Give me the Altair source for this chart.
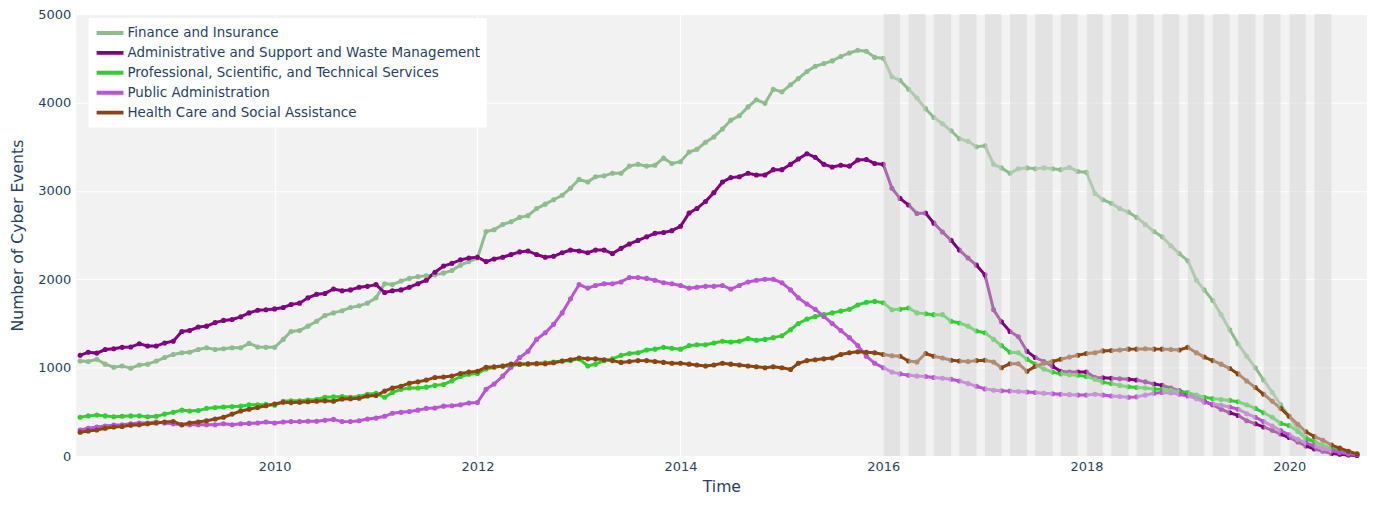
import altair as alt
import pandas as pd

series_names = [
    "Finance and Insurance",
    "Administrative and Support and Waste Management",
    "Professional, Scientific, and Technical Services",
    "Public Administration",
    "Health Care and Social Assistance",
]
series_colors = ["#8FBC8F", "#800080", "#32CD32", "#BA55D3", "#8B4513"]

# monthly values, Feb 2008 ... Sep 2020
finance = [
    1075, 1070, 1095, 1040, 1005, 1020, 995, 1030, 1040, 1075, 1115,
    1150, 1170, 1175, 1205, 1225, 1205, 1215, 1225, 1225, 1275, 1235, 1230,
    1230, 1320, 1410, 1420, 1470, 1525, 1590, 1620, 1645, 1680, 1700, 1730,
    1790, 1950, 1940, 1980, 2010, 2030, 2040, 2050, 2070, 2100, 2160, 2200,
    2240, 2540, 2560, 2620, 2650, 2700, 2720, 2800, 2850, 2900, 2950, 3030,
    3130, 3100, 3160, 3170, 3200, 3200, 3280, 3300, 3280, 3290, 3370, 3310,
    3330, 3440, 3470, 3550, 3610, 3700, 3800, 3850, 3950, 4030, 3990, 4150,
    4120, 4200, 4270, 4350, 4410, 4440, 4470, 4520, 4560, 4590, 4580, 4510,
    4500, 4290, 4250, 4150, 4050, 3930, 3830, 3760, 3680, 3590, 3560, 3500,
    3510, 3300, 3260, 3200, 3250, 3260, 3250, 3260, 3250, 3240, 3265, 3220,
    3210, 2970, 2900, 2860, 2800, 2760, 2700, 2620, 2540, 2480, 2380, 2290,
    2210, 1990, 1880, 1760, 1600, 1430, 1270, 1130, 1000, 860, 720, 580,
    450, 300, 210, 170, 120, 90, 55, 30, 15,
]
admin = [
    1140, 1175, 1165, 1205, 1215, 1230, 1235, 1270, 1245, 1245, 1280,
    1300, 1410, 1420, 1460, 1470, 1510, 1535, 1545, 1575, 1620, 1650, 1655,
    1665, 1680, 1715, 1730, 1790, 1830, 1840, 1890, 1870, 1880, 1910, 1920,
    1940, 1850, 1870, 1880, 1910, 1950, 1990, 2080, 2150, 2180, 2220, 2240,
    2250, 2200, 2230, 2250, 2280, 2310, 2320, 2280, 2250, 2260, 2300, 2330,
    2320, 2300, 2330, 2330, 2290, 2350, 2400, 2440, 2480, 2520, 2530, 2550,
    2600, 2750, 2800, 2880, 2980, 3100, 3150, 3160, 3200, 3180, 3180, 3240,
    3240, 3300, 3360, 3420, 3380, 3300, 3270, 3290, 3280, 3350, 3355, 3310,
    3300, 3030, 2915, 2840, 2745, 2750, 2635, 2535, 2440, 2330, 2240, 2160,
    2050, 1655, 1520, 1410, 1350, 1185, 1115, 1070, 1015, 960, 950, 950,
    950, 890, 885, 880, 875, 870, 860, 840, 815, 800, 770, 740,
    700, 660, 620, 580, 530, 490, 460, 400, 365, 330, 290, 250,
    210, 160, 115, 80, 55, 30, 20, 12, 8,
]
professional = [
    440, 455, 465, 455, 445, 450, 455, 455, 445, 450, 475,
    495, 520, 510, 515, 540, 550, 555, 560, 565, 580, 580, 585,
    575, 620, 625, 625, 635, 640, 665, 670, 675, 665, 675, 700,
    710, 665, 720, 755, 770, 770, 780, 800, 810, 850, 900, 925,
    935, 985, 1005, 1015, 1020, 1040, 1040, 1050, 1055, 1065, 1075, 1080,
    1100, 1020, 1040, 1080, 1100, 1140, 1160, 1170, 1200, 1210, 1230, 1220,
    1210, 1250, 1260, 1260, 1280, 1300, 1290, 1300, 1330, 1310, 1320, 1340,
    1360, 1430, 1500, 1550, 1580, 1600, 1620, 1640, 1660, 1710, 1740, 1750,
    1735, 1655, 1660, 1675, 1620, 1610, 1600, 1600, 1525, 1505, 1470, 1415,
    1395, 1320, 1250, 1175, 1170, 1095, 1040, 985, 950, 930, 920, 915,
    900, 870, 835, 820, 800, 785, 775, 770, 760, 755, 745, 730,
    720, 690, 665, 650, 640, 630, 615, 580, 540, 490, 440, 370,
    345, 280, 195, 160, 120, 85, 60, 35, 20,
]
public_admin = [
    295, 315, 330, 340, 350, 355, 365, 375, 375, 385, 375,
    365, 355, 355, 355, 355, 355, 365, 355, 365, 370, 375, 385,
    375, 385, 390, 390, 395, 395, 405, 415, 390, 390, 400, 420,
    430, 450, 485, 495, 505, 520, 540, 545, 565, 570, 580, 600,
    605, 755, 815, 905, 1005, 1115, 1185, 1320, 1395, 1490, 1620, 1780,
    1940, 1900, 1930, 1950, 1950, 1970, 2020, 2020, 2010, 1990, 1960, 1950,
    1930, 1900, 1910, 1920, 1920, 1930, 1890, 1930, 1970, 1990, 2000, 2000,
    1960, 1880, 1790, 1720, 1660, 1580, 1500, 1420, 1340, 1250, 1130, 1050,
    1000, 950, 930, 915, 905, 900, 890, 880, 870, 850, 820, 790,
    760, 745, 740, 735, 730, 725, 720, 710, 705, 700, 695, 690,
    690, 700, 690, 680, 675, 665, 670, 690, 710, 720, 715, 700,
    680, 650, 610, 590, 575, 555, 530, 480, 440, 390, 340, 290,
    240, 190, 150, 115, 85, 60, 40, 25, 15,
]
health = [
    270, 285, 295, 315, 330, 335, 350, 355, 365, 375, 385,
    390, 355, 375, 385, 400, 420, 440, 475, 510, 530, 550, 570,
    590, 610, 605, 610, 615, 620, 625, 620, 645, 650, 655, 680,
    685, 735, 770, 790, 825, 840, 860, 890, 895, 905, 935, 950,
    960, 1005, 1010, 1020, 1040, 1040, 1045, 1045, 1045, 1055, 1075, 1090,
    1110, 1100, 1100, 1090, 1080, 1060, 1070, 1080, 1080, 1070, 1060, 1050,
    1050, 1040, 1030, 1020, 1030, 1050, 1040, 1030, 1020, 1010, 1000, 1010,
    1000, 980, 1050, 1080, 1090, 1100, 1110, 1150, 1170, 1180, 1175, 1170,
    1150, 1135, 1130, 1075, 1065, 1160, 1130, 1110, 1085, 1075, 1070, 1080,
    1085, 1065, 1000, 1045, 1045, 960, 1015, 1050, 1070, 1095, 1120, 1140,
    1160, 1170, 1190, 1195, 1200, 1210, 1210, 1215, 1210, 1210, 1205, 1200,
    1230, 1170, 1120, 1080, 1040, 990, 930, 850, 775, 700, 620, 540,
    450, 360, 275, 220, 180, 125, 90, 55, 25,
]

band_start = [
    "2016-01-01", "2016-04-01", "2016-07-01", "2016-10-01",
    "2017-01-01", "2017-04-01", "2017-07-01", "2017-10-01",
    "2018-01-01", "2018-04-01", "2018-07-01", "2018-10-01",
    "2019-01-01", "2019-04-01", "2019-07-01", "2019-10-01",
    "2020-01-01", "2020-04-01",
]
band_end = [
    "2016-03-01", "2016-06-01", "2016-09-01", "2016-12-01",
    "2017-03-01", "2017-06-01", "2017-09-01", "2017-12-01",
    "2018-03-01", "2018-06-01", "2018-09-01", "2018-12-01",
    "2019-03-01", "2019-06-01", "2019-09-01", "2019-12-01",
    "2020-03-01", "2020-06-01",
]

months = pd.date_range("2008-02-01", periods=152, freq="MS").strftime("%Y-%m-%d")
all_values = [finance, admin, professional, public_admin, health]
rows = []
for name, vals in zip(series_names, all_values):
    assert len(vals) == len(months), (name, len(vals))
    for d, v in zip(months, vals):
        rows.append({"series": name, "date": d, "value": v})
df = pd.DataFrame(rows)
bands = pd.DataFrame({"start": band_start, "end": band_end})

FONT = "DejaVu Sans"
TXT = "#2a3f5f"

x_scale = alt.Scale(domain=[alt.DateTime(year=2008, month=1, date=16),
                            alt.DateTime(year=2020, month=10, date=7)])
y_scale = alt.Scale(domain=[0, 5000], nice=False)

lines = alt.Chart(df).mark_line(
    strokeWidth=3,
    point=alt.OverlayMarkDef(filled=True, size=26),
).encode(
    x=alt.X("date:T", scale=x_scale,
            axis=alt.Axis(values=[alt.DateTime(year=y, month=1, date=1) for y in range(2010, 2021, 2)],
                          format="%Y", title="Time", labelPadding=4,
                          titleY=31, titleBaseline="middle")),
    y=alt.Y("value:Q", scale=y_scale,
            axis=alt.Axis(values=[0, 1000, 2000, 3000, 4000, 5000], format="d",
                          title="Number of Cyber Events", labelPadding=5,
                          titleX=-58, titleY=222, titleBaseline="middle", titleAlign="center")),
    color=alt.Color("series:N", sort=series_names,
                    scale=alt.Scale(domain=series_names, range=series_colors),
                    legend=alt.Legend(title=None, orient="none", legendX=13, legendY=4,
                                      fillColor="white", padding=6, symbolType="stroke",
                                      symbolSize=729, symbolStrokeWidth=4, labelFont=FONT,
                                      labelFontSize=13.5, labelColor=TXT, rowPadding=2,
                                      clipHeight=18, labelOffset=2, labelLimit=600)),
)

band_layer = alt.Chart(bands).mark_rect(color="lightgray", opacity=0.5).encode(
    x=alt.X("start:T", scale=x_scale),
    x2="end:T",
    y=alt.datum(0, scale=y_scale),
    y2=alt.datum(5000),
)

chart = alt.layer(lines, band_layer).properties(
    width=1297, height=444,
    autosize=alt.AutoSizeParams(type="none"),
    padding={"left": 68, "top": 5, "right": 0, "bottom": 41},
    background="white",
).configure_view(
    fill="#f2f2f2", strokeOpacity=0,
).configure_axis(
    labelFont=FONT, labelFontSize=13, labelColor=TXT,
    titleFont=FONT, titleFontSize=15.7, titleColor=TXT, titleFontWeight="normal",
    grid=True, gridColor="white", gridWidth=1, gridOpacity=1,
    domain=False, ticks=False,
)

chart.save("out.html", embed_options={"renderer": "svg", "actions": False})
